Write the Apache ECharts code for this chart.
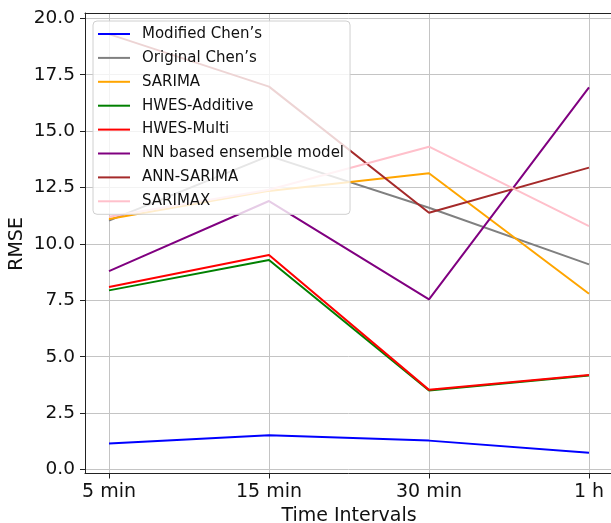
<!DOCTYPE html>
<html>
<head>
<meta charset="utf-8">
<script src="https://cdn.jsdelivr.net/npm/echarts@6/dist/echarts.min.js"></script>
<style>html,body{margin:0;padding:0;background:#fff;}#c{width:611px;height:523px;}</style>
</head>
<body>
<div id="c"></div>
<script>
var categories = ['5 min', '15 min', '30 min', '1 h'];
var yTicks = [0, 2.5, 5, 7.5, 10, 12.5, 15, 17.5, 20];
var modifiedChens = [1.15, 1.52, 1.28, 0.74];
var originalChens = [11.03, 13.9, 11.6, 9.09];
var sarima = [11.1, 12.35, 13.13, 7.79];
var hwesAdditive = [7.94, 9.29, 3.5, 4.17];
var hwesMulti = [8.09, 9.51, 3.53, 4.19];
var nnEnsemble = [8.79, 11.9, 7.54, 16.94];
var annSarima = [19.3, 16.97, 11.38, 13.38];
var sarimax = [11.2, 12.4, 14.31, 10.79];

var seriesDefs = [
  ['Modified Chen\u2019s', modifiedChens, '#0000ff'],
  ['Original Chen\u2019s', originalChens, '#808080'],
  ['SARIMA', sarima, '#ffa500'],
  ['HWES-Additive', hwesAdditive, '#008000'],
  ['HWES-Multi', hwesMulti, '#ff0000'],
  ['NN based ensemble model', nnEnsemble, '#800080'],
  ['ANN-SARIMA', annSarima, '#a52a2a'],
  ['SARIMAX', sarimax, '#ffc0cb']
];

var FONT = 'DejaVu Sans';
function frameAxis(pos){
  return {type:'value', gridIndex:0, position:pos, min:0, max:1,
    axisLine:{show:true, onZero:false, lineStyle:{color:'#222', width:1}},
    axisTick:{show:false}, axisLabel:{show:false}, splitLine:{show:false}};
}
function g(l, r, t, b){ return {left:l, right:r, top:t, bottom:b, containLabel:false, outerBoundsMode:'none', show:false}; }
var chart = echarts.init(document.getElementById('c'), null, {renderer:'canvas'});
var option = {
  animation:false,
  backgroundColor:'#fff',
  textStyle:{fontFamily:FONT},
  grid:[
    g(85, -10, 13, 49.5),
    g(85, -10, 18.3, 53.5),
    g(109, 22, 13, 49.5),
    g(109, 22, 18.3, 53.5)
  ],
  xAxis:[
    frameAxis('bottom'),
    frameAxis('top'),
    {type:'value', gridIndex:1, min:0, max:1, show:false},
    {type:'value', gridIndex:2, min:0, max:3, interval:1, position:'bottom',
      axisLine:{show:false, onZero:false},
      axisTick:{show:true, length:5, lineStyle:{color:'#222', width:1}},
      axisLabel:{show:true, margin:9.5, fontSize:19, color:'#111', fontFamily:FONT,
        formatter:function(v){ return categories[Math.round(v)] || ''; }},
      splitLine:{show:true, lineStyle:{color:'#c4c4c4', width:1}},
      name:'Time Intervals', nameLocation:'middle', nameGap:33.5,
      nameTextStyle:{fontSize:19, color:'#111', fontFamily:FONT}},
    {type:'value', gridIndex:3, min:0, max:3, show:false}
  ],
  yAxis:[
    {type:'value', gridIndex:0, position:'left', min:0, max:1,
      axisLine:{show:true, onZero:false, lineStyle:{color:'#222', width:1}},
      axisTick:{show:false}, axisLabel:{show:false}, splitLine:{show:false}},
    {type:'value', gridIndex:1, min:yTicks[0], max:yTicks[yTicks.length-1], interval:2.5,
      axisLine:{show:false, onZero:false},
      axisTick:{show:true, length:5, lineStyle:{color:'#222', width:1}},
      axisLabel:{show:true, margin:10, fontSize:18.5, color:'#111', fontFamily:FONT,
        formatter:function(v){ return v.toFixed(1); }},
      splitLine:{show:true, lineStyle:{color:'#c4c4c4', width:1}},
      name:'RMSE', nameLocation:'middle', nameGap:58, nameRotate:90, nameMoveOverlap:false,
      nameTextStyle:{fontSize:19, color:'#111', fontFamily:FONT}},
    {type:'value', gridIndex:2, min:0, max:1, show:false},
    {type:'value', gridIndex:3, min:0, max:20, show:false}
  ],
  legend:{
    orient:'vertical', left:93, top:21, icon:'rect',
    padding:[5,6,5,5], itemGap:7.9, itemWidth:32, itemHeight:2,
    backgroundColor:'rgba(255,255,255,0.8)', borderColor:'#d0d0d0', borderWidth:1, borderRadius:4,
    textStyle:{fontSize:15, color:'#111', fontFamily:FONT, lineHeight:16, padding:[0,0,0,7]},
    data:seriesDefs.map(function(d){return d[0];})
  },
  series:seriesDefs.map(function(d){
    return {name:d[0], type:'line', xAxisIndex:4, yAxisIndex:3,
      data:d[1].map(function(v,i){return [i, v];}),
      symbol:'none', showSymbol:false,
      lineStyle:{color:d[2], width:2}, itemStyle:{color:d[2]}};
  })
};
chart.setOption(option);
</script>
</body>
</html>
